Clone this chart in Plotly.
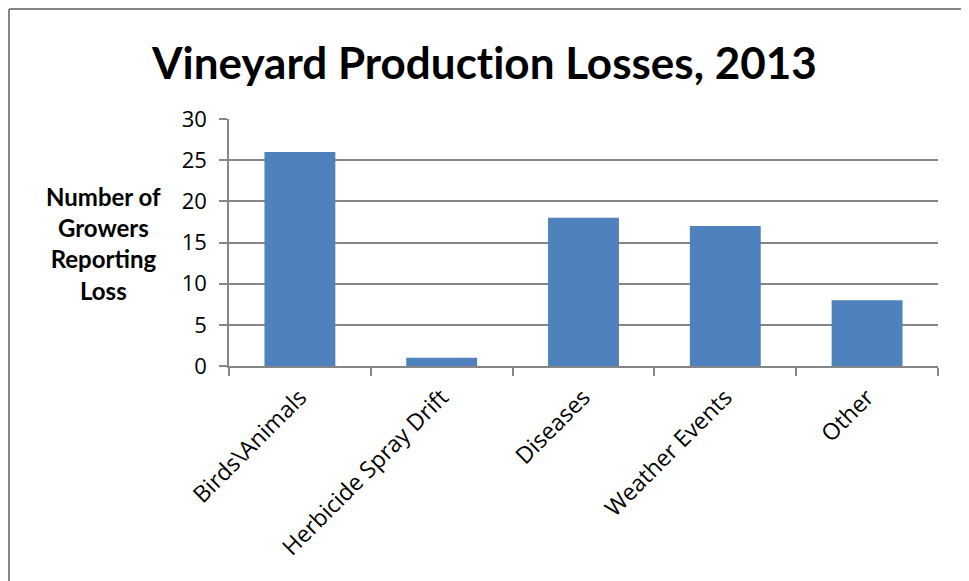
import plotly.graph_objects as go

categories = ["Birds\\Animals", "Herbicide Spray Drift", "Diseases", "Weather Events", "Other"]
values = [26, 1, 18, 17, 8]
y_ticks = [0, 5, 10, 15, 20, 25, 30]

OFF = 8  # page body margin offset
W, H = 969 - OFF, 581 - OFF
L, R, T, B = 229 - OFF, 938 - OFF, 119 - OFF, 366 - OFF

def px(x):
    return (x - OFF - L) / (R - L)

def py(y):
    return (B - (y - OFF)) / (B - T)

TFONT = "Lato"
KFONT = "Open Sans"
GRID = "#868686"

fig = go.Figure(go.Bar(x=categories, y=values, marker=dict(color="#4F81BD", line=dict(width=0)), width=0.5))

fig.update_layout(
    width=W, height=H,
    margin=dict(l=L, r=W - R, t=T, b=H - B),
    paper_bgcolor="white", plot_bgcolor="white",
    showlegend=False,
    font=dict(family=KFONT, color="black"),
    xaxis=dict(
        tickangle=-45, tickfont=dict(size=23, family=KFONT, color="black"),
        showline=True, linecolor=GRID, linewidth=1.5,
        ticks="outside", tickson="boundaries", ticklen=8, tickcolor=GRID, tickwidth=1.5,
        showgrid=False, ticklabelstandoff=7,
    ),
    yaxis=dict(
        range=[0, 30], tickvals=y_ticks, tickfont=dict(size=22, family=KFONT, color="black"),
        showline=True, linecolor=GRID, linewidth=1.5,
        ticks="outside", ticklen=8, tickcolor=GRID, tickwidth=1.5,
        showgrid=True, gridcolor=GRID, gridwidth=1.5, zeroline=False,
        ticklabelstandoff=8,
    ),
)

fig.add_annotation(
    text="<b>Vineyard Produc<span style='font-size:43.9px'>t</span>ion Losses, 2013</b>",
    xref="paper", yref="paper", x=px(484), y=py(62), showarrow=False,
    font=dict(size=44, family=TFONT, color="black"), xanchor="center", yanchor="middle",
)

fig.add_annotation(
    text="<b>Number of<br>Growers<br>Reporting<br>Loss</b>",
    xref="paper", yref="paper", x=px(103), y=py(243), showarrow=False,
    font=dict(size=24, family=TFONT, color="black"), xanchor="center", yanchor="middle",
    align="center",
)

# chart border (outer frame); page starts 8px in, so frame sits at the figure edge
for x0, y0, x1, y1 in [(9, 9, 966, 9), (9, 9, 9, 600), (966, 9, 966, 600)]:
    fig.add_shape(type="line", xref="paper", yref="paper",
                  x0=px(x0), y0=py(y0), x1=px(x1), y1=py(y1),
                  line=dict(color=GRID, width=2))

fig.write_html("out.html")
